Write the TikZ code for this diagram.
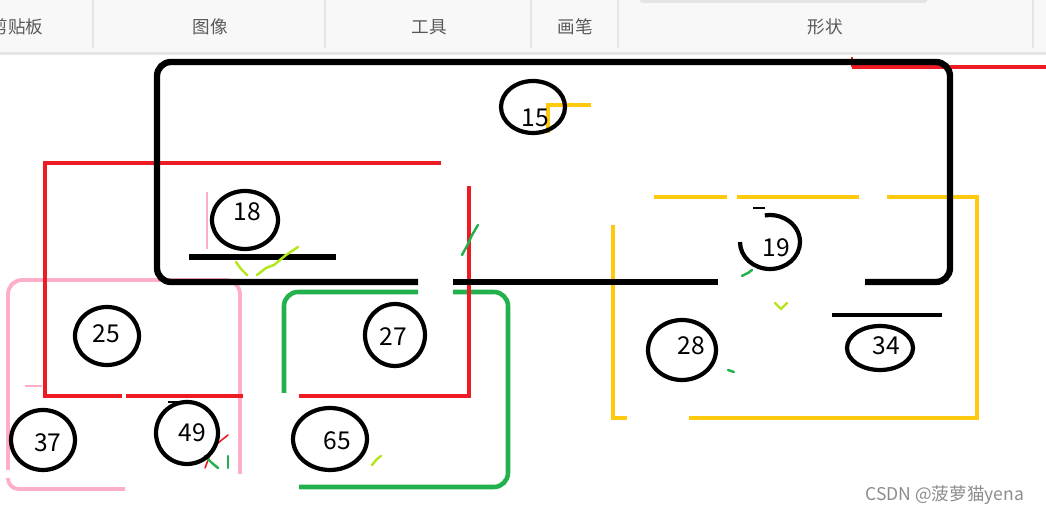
\documentclass[tikz,border=0pt]{standalone}
\usepackage{fontspec}
\setmainfont{Noto Sans CJK SC}
\usetikzlibrary{shapes.geometric}
\definecolor{pred}{HTML}{ED1C24}
\definecolor{pyellow}{HTML}{FFC90E}
\definecolor{pgreen}{HTML}{22B14C}
\definecolor{ppink}{HTML}{FFAEC9}
\definecolor{plime}{HTML}{B5E61D}
\definecolor{barbg}{HTML}{F8F8F8}
\definecolor{barline}{HTML}{E6E6E6}

\tikzset{
	tab/.style={font=\fontsize{10}{10}\selectfont, text=black!65},
	num/.style={font=\fontsize{14}{14}\selectfont},
	ring/.style={draw, ellipse, line width=2.4pt, inner sep=0pt},
	blk/.style={line width=3.6pt},
	redl/.style={pred, line width=2.6pt},
	yell/.style={pyellow, line width=2.6pt},
	grn/.style={pgreen, line width=2.6pt},
	pnk/.style={ppink, line width=2.2pt},
	scrib/.style={line width=1.4pt, line cap=round}
}

\begin{document}
\begin{tikzpicture}[x=0.02cm, y=0.02cm]
	\useasboundingbox (0,0) rectangle (1046,514);

	\fill [barbg] (0,462) rectangle (1046,514);
	\fill [barline] (0,459) rectangle (1046,462);
	\fill [black!10, rounded corners=1pt] (640,511) rectangle (927,516);
	\foreach \x in {93,325,531,618,1033}
		\draw [barline, line width=0.6pt] (\x,466) -- (\x,514);
	\node [tab] (clip) at (17,487) {剪贴板};
	\node [tab] (image) at (210,487) {图像};
	\node [tab] (tools) at (429,487) {工具};
	\node [tab] (brush) at (575,487) {画笔};
	\node [tab] (shape) at (825,487) {形状};

	\draw [redl] (852,447) -- (1046,447);
	\draw [pred, line width=1pt] (852,447) -- (852,457);

	\draw [yell] (654,317) -- (727,317);
	\draw [yell] (737,317) -- (859,317);
	\draw [yell] (887,317) -- (977,317) -- (977,96) -- (689,96);
	\draw [yell] (627,96) -- (613,96) -- (613,289);
	\draw [yell] (548,381) -- (548,409) -- (591,409);

	\draw [pnk, rounded corners=8pt] (240,40) -- (240,234) -- (8,234) -- (8,44);
	\draw [pnk, rounded corners=6pt] (8,36) -- (8,25) -- (125,25);
	\draw [ppink, line width=1pt] (25,128) -- (42,128);
	\draw [ppink, line width=1pt] (207,265) -- (207,322);

	\draw [grn, rounded corners=8pt] (284,121) -- (284,222) -- (418,222);
	\draw [grn, rounded corners=8pt] (453,222) -- (508,222) -- (508,27) -- (299,27);

	\draw [redl] (441,351) -- (45,351) -- (45,118) -- (122,118);
	\draw [redl] (126,118) -- (243,118);
	\draw [redl] (299,118) -- (469,118) -- (469,328);

	\draw [blk, rounded corners=8pt] (418,232) -- (157,232) -- (157,452)
		-- (950,452) -- (950,232) -- (865,232);
	\draw [blk] (453,232) -- (718,232);
	\draw [blk] (189,257) -- (336,257);
	\draw [line width=1.8pt] (832,199) -- (942,199);
	\draw [line width=0.8pt] (168,112) -- (195,112);
	\draw [line width=0.8pt] (753,306) -- (765,306);

	\draw [scrib, plime] (236,252) -- (241,245) -- (247,239);
	\draw [scrib, plime] (257,239) -- (266,246) -- (274,249) -- (286,259) -- (298,267);
	\draw [scrib, plime] (372,49) -- (377,55) -- (381,58);
	\draw [scrib, plime] (775,211) -- (781,205) -- (787,211);
	\draw [scrib, pgreen] (462,259) -- (468,270) -- (472,279) -- (478,289);
	\draw [scrib, pgreen] (742,238) -- (748,241) -- (752,244);
	\draw [scrib, pgreen] (728,144) -- (734,142);
	\draw [scrib, pred, line width=0.9pt] (205,46) -- (213,67) -- (228,79);
	\draw [scrib, pgreen] (205,58) -- (212,51) -- (218,46);
	\draw [scrib, pgreen] (228,46) -- (228,58);

	\node [ring, minimum width=1.28cm, minimum height=1.04cm] (e15) at (533,407) {};
	\node [ring, minimum width=1.32cm, minimum height=1.16cm] (e18) at (245,294) {};
	\coordinate (c19) at (770,272);
	\draw [line width=2.4pt] (c19) ++(180:30 and 27)
		arc [start angle=180, end angle=460, x radius=30, y radius=27];
	\node [ring, minimum width=1.36cm, minimum height=1.20cm] (e28) at (682,164) {};
	\node [ring, minimum width=1.32cm, minimum height=0.88cm] (e34) at (880,166) {};
	\node [ring, minimum width=1.28cm, minimum height=1.16cm] (e25) at (107,178) {};
	\node [ring, minimum width=1.20cm, minimum height=1.24cm] (e27) at (395,179) {};
	\node [ring, minimum width=1.28cm, minimum height=1.20cm] (e37) at (43,74) {};
	\node [ring, minimum width=1.24cm, minimum height=1.24cm] (e49) at (187,81) {};
	\node [ring, minimum width=1.48cm, minimum height=1.24cm] (e65) at (330,75) {};

	\node [num] (n15) at (535,396) {15};
	\node [num] (n18) at (247,302) {18};
	\node [num] (n19) at (776,266) {19};
	\node [num] (n28) at (691,168) {28};
	\node [num] (n34) at (886,168) {34};
	\node [num] (n25) at (106,180) {25};
	\node [num] (n27) at (393,177) {27};
	\node [num] (n37) at (48,71) {37};
	\node [num] (n49) at (192,81) {49};
	\node [num] (n65) at (337,73) {65};

	\node [anchor=west, text=black!45, font=\fontsize{10}{10}\selectfont,
		inner sep=0pt] (mark) at (865,19) {CSDN @菠萝猫yena};
\end{tikzpicture}
\end{document}
